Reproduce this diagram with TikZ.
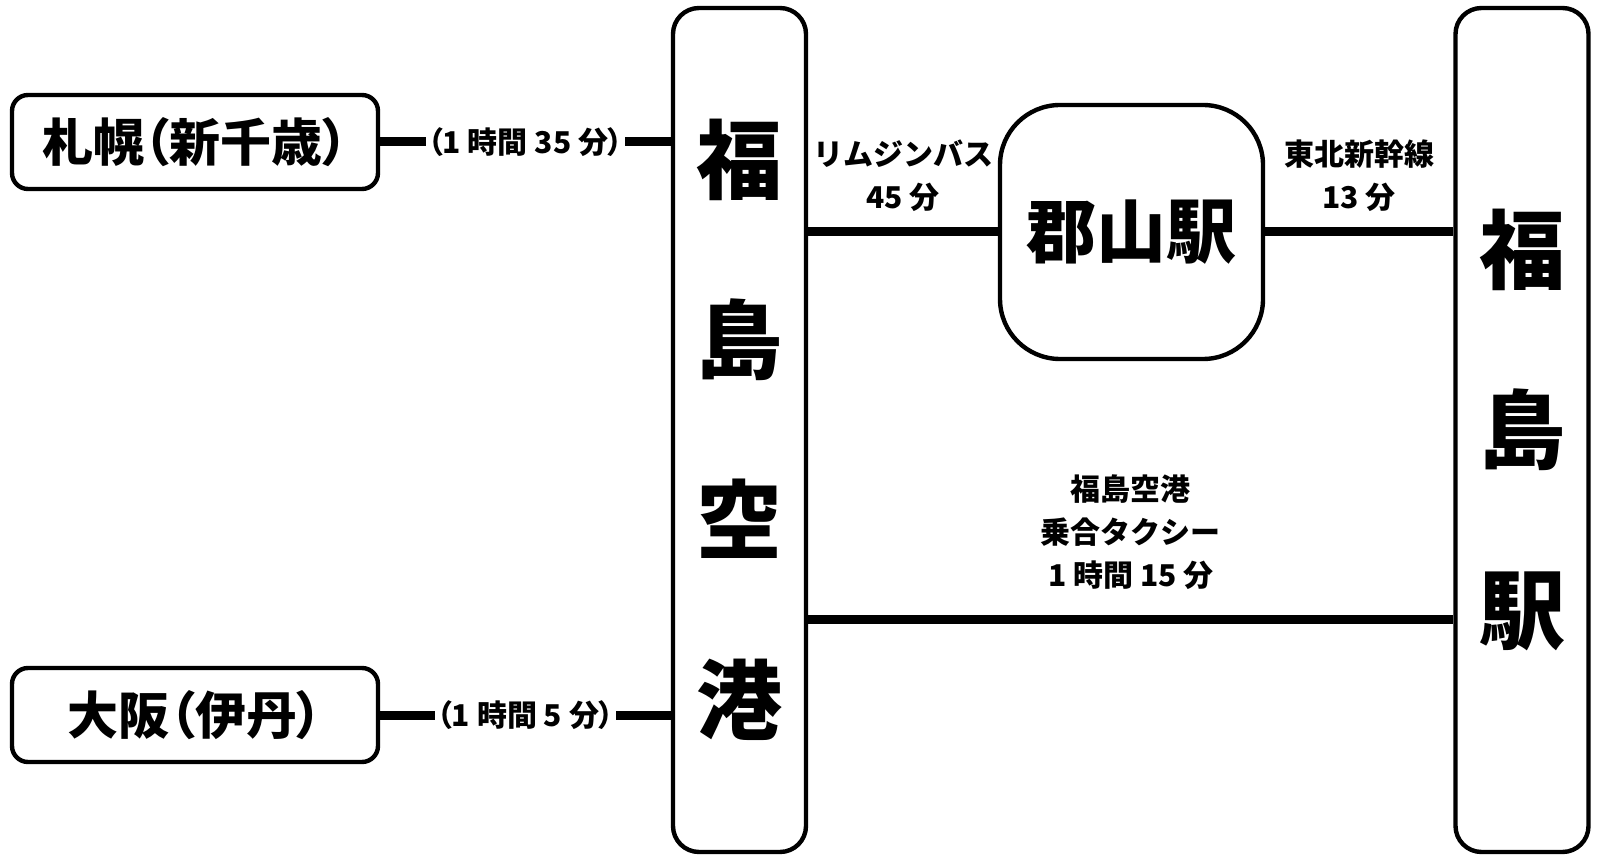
\documentclass[tikz,border=0pt]{standalone}
\usepackage{fontspec}
\setmainfont{Noto Sans CJK JP}
\newfontfamily\paltfont[RawFeature=+palt]{Noto Sans CJK JP}
\newcommand{\lpar}{{\paltfont\bfseries （}}
\newcommand{\rpar}{{\paltfont\bfseries ）}}
\usetikzlibrary{positioning}

\begin{document}
\begin{tikzpicture}[x=0.5pt, y=-0.5pt, font=\bfseries,
    box/.style={draw, line width=2.2pt, rounded corners=8pt, minimum width=183pt,
      minimum height=47pt, font=\bfseries\fontsize{25.5}{30}\selectfont},
    tall/.style={draw, line width=2.2pt, rounded corners=13pt, minimum width=66.5pt,
      minimum height=422pt, align=center, font=\bfseries\fontsize{43}{90}\selectfont},
    hub/.style={draw, line width=2.2pt, rounded corners=30pt, minimum width=131.5pt,
      minimum height=127pt, font=\bfseries\fontsize{35}{40}\selectfont},
    link/.style={line width=4.5pt},
    lbl/.style={font=\bfseries\fontsize{15}{21.5}\selectfont, align=center}]

  \useasboundingbox (0,0) rectangle (1600,860);

  \node[box] (SPK) at (195,142) {札幌\lpar 新千歳\rpar};
  \node[box] (ITM) at (195,715) {大阪\lpar 伊丹\rpar};
  \node[tall] (FKS) at (739.5,430) {福\\島\\空\\港};
  \node[tall] (FKE) at (1522,430) {福\\島\\駅};
  \node[hub] (KRY) at (1131.5,232) {郡山駅};
  \coordinate (taxi) at (0,619);

  \draw[link] (SPK.east) -- (SPK.east -| FKS.west)
    node[midway, fill=white, inner sep=1pt, lbl] {\lpar 1 時間 35 分\rpar};
  \draw[link] (ITM.east) -- (ITM.east -| FKS.west)
    node[midway, fill=white, inner sep=1pt, lbl] {\lpar 1 時間 5 分\rpar};
  \draw[link] (KRY.west -| FKS.east) -- (KRY.west)
    node[midway, above=4.5pt, lbl] {リムジンバス\\45 分};
  \draw[link] (KRY.east) -- (KRY.east -| FKE.west)
    node[midway, above=4.5pt, lbl] {東北新幹線\\13 分};
  \draw[link] (taxi -| FKS.east) -- (taxi -| FKE.west)
    node[midway, above=9pt, lbl] {福島空港\\乗合タクシー\\1 時間 15 分};
\end{tikzpicture}
\end{document}
